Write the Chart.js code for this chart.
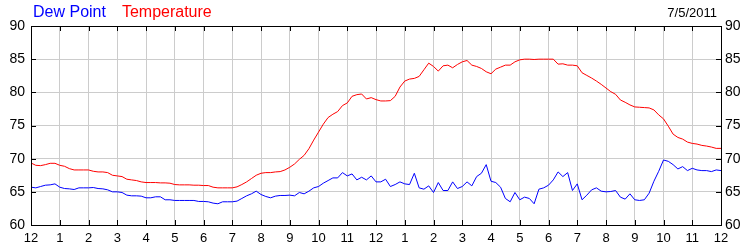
<!DOCTYPE html>
<html>
<head>
<meta charset="utf-8">
<script src="https://cdn.jsdelivr.net/npm/chart.js@4/dist/chart.umd.min.js"></script>
<style>
  html, body { margin: 0; padding: 0; background: #fff; }
  #wrap { position: relative; width: 750px; height: 250px; }
  #head { position: absolute; left: 33px; top: 4px; font: 16px/16px "Liberation Sans", Arial, sans-serif; white-space: nowrap; }
  #head .dew { color: #0000ff; }
  #head .temp { color: #ff0000; margin-left: 16px; }
  #date { position: absolute; right: 33px; top: 6px; font: 13px/13px "Liberation Sans", Arial, sans-serif; color: #000; }
</style>
</head>
<body>
<div id="wrap">
  <canvas id="weatherChart" width="750" height="250"></canvas>
  <div id="head"><span class="dew">Dew Point</span><span class="temp">Temperature</span></div>
  <div id="date">7/5/2011</div>
</div>
<script>
// hour labels along the bottom (midnight to midnight)
const hourLabels = ["12", "1", "2", "3", "4", "5", "6", "7", "8", "9", "10", "11",
  "12", "1", "2", "3", "4", "5", "6", "7", "8", "9", "10", "11", "12"];
const yTicks = [60, 65, 70, 75, 80, 85, 90];

// readings every 10 minutes, 00:00 .. 24:00
const temperature = [
  69.35, 69.0, 68.95, 69.1, 69.3, 69.3, 69.0, 68.85, 68.5, 68.3, 68.3, 68.3,
  68.3, 68.1, 68.0, 68.0, 67.9, 67.5, 67.4, 67.3, 66.9, 66.8, 66.7, 66.5,
  66.4, 66.4, 66.4, 66.35, 66.35, 66.3, 66.1, 66.05, 66.05, 66.05, 66.0, 66.0,
  65.95, 65.95, 65.7, 65.6, 65.6, 65.6, 65.6, 65.75, 66.1, 66.5, 67.0, 67.5,
  67.8, 67.9, 67.9, 68.0, 68.05, 68.3, 68.7, 69.2, 69.9, 70.5, 71.5, 72.8,
  74.0, 75.2, 76.2, 76.7, 77.1, 78.0, 78.4, 79.4, 79.65, 79.75, 79.0, 79.2,
  78.9, 78.7, 78.7, 78.75, 79.4, 80.8, 81.7, 82.0, 82.1, 82.4, 83.4, 84.4,
  83.9, 83.2, 84.0, 84.1, 83.7, 84.2, 84.6, 84.8, 84.1, 83.9, 83.6, 83.1,
  82.8, 83.5, 83.8, 84.1, 84.1, 84.6, 84.9, 85.0, 85.0, 84.95, 85.0, 85.0,
  85.0, 85.0, 84.25, 84.3, 84.1, 84.1, 84.0, 82.95, 82.55, 82.15, 81.7, 81.2,
  80.65, 80.1, 79.7, 78.85, 78.5, 78.1, 77.8, 77.75, 77.7, 77.65, 77.35, 76.6,
  76.0, 74.9, 73.7, 73.2, 72.95, 72.5, 72.3, 72.2, 72.0, 71.9, 71.75, 71.55,
  71.55
];
const dewPoint = [
  65.7, 65.6, 65.8, 66.0, 66.05, 66.2, 65.7, 65.5, 65.45, 65.35, 65.6, 65.6,
  65.6, 65.65, 65.5, 65.45, 65.3, 65.0, 65.0, 64.9, 64.5, 64.4, 64.4, 64.35,
  64.1, 64.1, 64.25, 64.25, 63.8, 63.8, 63.7, 63.7, 63.7, 63.7, 63.7, 63.55,
  63.55, 63.5, 63.3, 63.2, 63.5, 63.5, 63.5, 63.6, 64.0, 64.4, 64.7, 65.1,
  64.6, 64.3, 64.1, 64.35, 64.45, 64.45, 64.5, 64.4, 64.9, 64.7, 65.1, 65.6,
  65.8, 66.3, 66.7, 67.1, 67.1, 67.9, 67.4, 67.7, 66.8, 67.2, 66.8, 67.4,
  66.5, 66.5, 66.9, 65.8, 66.1, 66.5, 66.2, 66.1, 67.8, 65.6, 65.4, 65.9,
  64.9, 66.4, 65.2, 65.2, 66.5, 65.5, 65.8, 66.5, 65.9, 67.3, 67.8, 69.1,
  66.6, 66.4, 65.7, 64.0, 63.5, 64.9, 63.8, 64.2, 64.0, 63.2, 65.4, 65.6,
  66.0, 66.8, 68.0, 67.3, 67.9, 65.2, 66.2, 63.8, 64.5, 65.3, 65.6, 65.1,
  65.0, 65.05, 65.2, 64.2, 63.9, 64.7, 63.8, 63.7, 63.8, 64.8, 66.6, 68.1,
  69.8, 69.6, 69.1, 68.45, 68.8, 68.2, 68.55, 68.3, 68.2, 68.2, 68.05, 68.3,
  68.2
];

const stepHours = 1 / 6;
const toPoints = (arr) => arr.map((v, i) => ({ x: i * stepHours, y: v }));

// box around the plot plus short black ticks pointing inward
const frameTicks = {
  id: "frameTicks",
  afterDraw(chart) {
    const { ctx, chartArea: a, scales } = chart;
    const len = 5;
    ctx.save();
    ctx.strokeStyle = "#000";
    ctx.lineWidth = 1;
    ctx.beginPath();
    scales.x.ticks.forEach((t) => {
      const px = Math.round(scales.x.getPixelForValue(t.value)) + 0.5;
      ctx.moveTo(px, a.bottom);
      ctx.lineTo(px, a.bottom - len);
      ctx.moveTo(px, a.top);
      ctx.lineTo(px, a.top + len);
    });
    scales.y.ticks.forEach((t) => {
      const py = Math.round(scales.y.getPixelForValue(t.value)) + 0.5;
      ctx.moveTo(a.left, py);
      ctx.lineTo(a.left + len, py);
      ctx.moveTo(a.right, py);
      ctx.lineTo(a.right - len, py);
    });
    ctx.stroke();
    ctx.strokeRect(Math.round(a.left) + 0.5, Math.round(a.top) + 0.5,
      Math.round(a.right - a.left), Math.round(a.bottom - a.top));
    ctx.restore();
  },
};

const tickFont = { family: "'Liberation Sans', Arial, sans-serif", size: 14 };

new Chart(document.getElementById("weatherChart"), {
  type: "line",
  data: {
    datasets: [
      {
        label: "Temperature",
        data: toPoints(temperature),
        borderColor: "#ff0000",
        borderWidth: 1,
        pointRadius: 0,
        tension: 0,
      },
      {
        label: "Dew Point",
        data: toPoints(dewPoint),
        borderColor: "#0000ff",
        borderWidth: 1,
        pointRadius: 0,
        tension: 0,
      },
    ],
  },
  options: {
    responsive: false,
    animation: false,
    events: [],
    layout: { padding: { top: 26 } },
    plugins: {
      legend: { display: false },
      tooltip: { enabled: false },
    },
    scales: {
      x: {
        type: "linear",
        min: 0,
        max: 24,
        afterFit: (s) => { s.height = 25; },
        afterBuildTicks: (s) => { s.ticks = hourLabels.map((_, i) => ({ value: i })); },
        grid: { color: "#cccccc", drawTicks: false },
        border: { display: false },
        ticks: {
          color: "#000",
          font: { family: "'Liberation Sans', Arial, sans-serif", size: 13 },
          padding: 6,
          maxRotation: 0,
          autoSkip: false,
          callback: (v) => hourLabels[v],
        },
      },
      y: {
        position: "left",
        min: 60,
        max: 90,
        afterFit: (s) => { s.width = 31; },
        afterBuildTicks: (s) => { s.ticks = yTicks.map((v) => ({ value: v })); },
        grid: { color: "#cccccc", drawTicks: false },
        border: { display: false },
        ticks: { color: "#000", font: tickFont, padding: 6 },
      },
      y2: {
        position: "right",
        min: 60,
        max: 90,
        afterFit: (s) => { s.width = 29; },
        afterBuildTicks: (s) => { s.ticks = yTicks.map((v) => ({ value: v })); },
        grid: { display: false, drawTicks: false },
        border: { display: false },
        ticks: { color: "#000", font: tickFont, padding: 4 },
      },
    },
  },
  plugins: [frameTicks],
});
</script>
</body>
</html>
